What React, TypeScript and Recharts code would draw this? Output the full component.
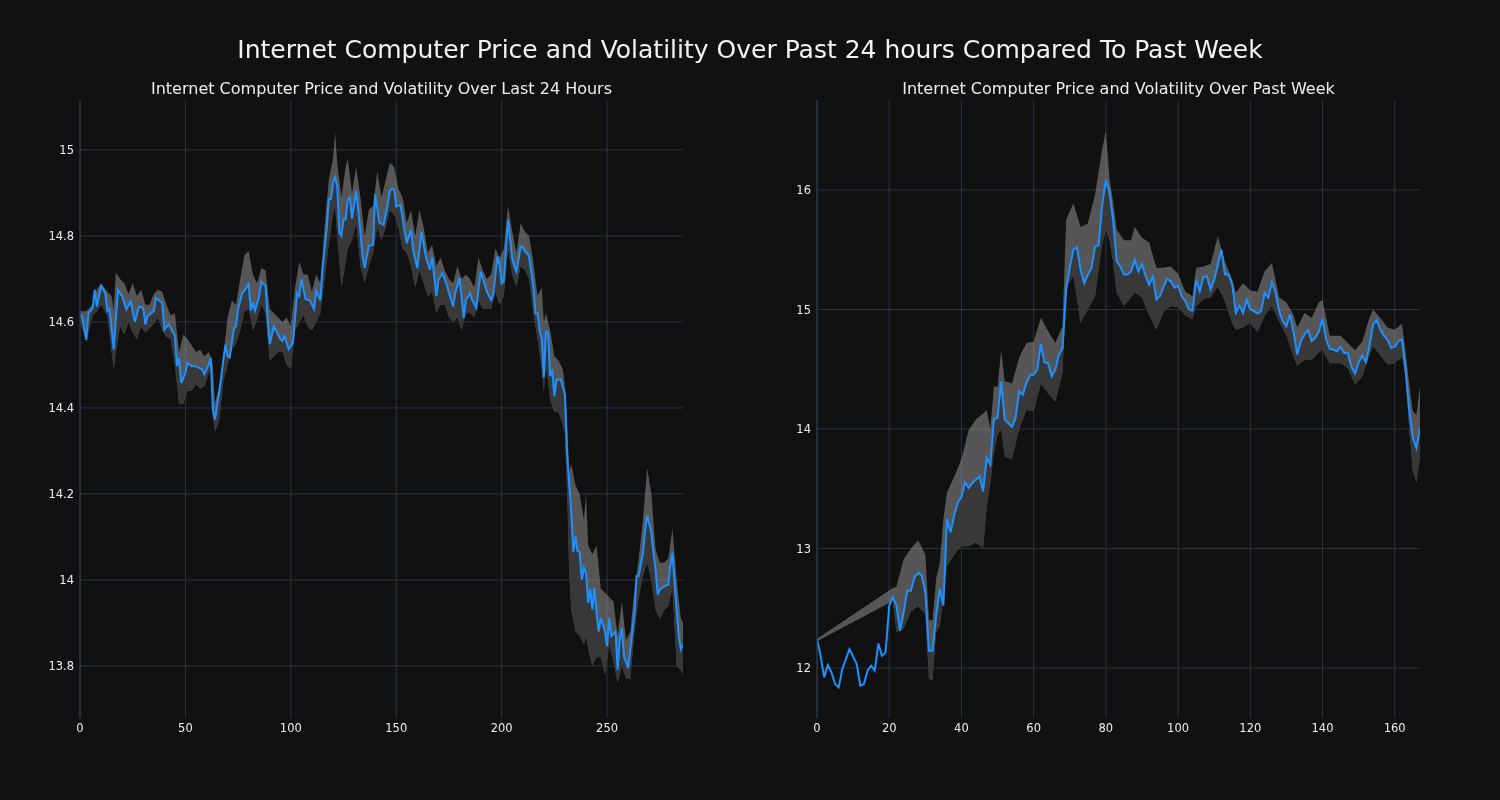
import { ComposedChart, Area, Line, XAxis, YAxis, CartesianGrid } from "recharts"

const FONT = "'DejaVu Sans', sans-serif"
const BG = "#111111"
const GRID = "#2a3443"
const TEXT = "#eeeeee"

const mainTitle = "Internet Computer Price and Volatility Over Past 24 hours Compared To Past Week"
const dayTitle = "Internet Computer Price and Volatility Over Last 24 Hours"
const weekTitle = "Internet Computer Price and Volatility Over Past Week"

// last 24 hours (5 minute steps)
const dayX = [
  0, 1, 3, 4, 6, 7, 8, 10, 12, 13,
  14, 16, 18, 20, 22, 24, 26, 28, 30, 31,
  32, 35, 36, 38, 39, 40, 42, 43, 45, 46,
  47, 48, 50, 51, 53, 55, 58, 59, 61, 62,
  63, 64, 66, 68, 69, 70, 71, 73, 74, 75,
  77, 78, 80, 81, 82, 83, 85, 86, 88, 89,
  90, 92, 95, 96, 97, 99, 101, 103, 104, 105,
  107, 109, 111, 112, 114, 115, 117, 118, 119, 120,
  121, 122, 123, 124, 125, 126, 127, 128, 129, 131,
  133, 134, 135, 137, 139, 140, 142, 144, 146, 147,
  148, 149, 150, 152, 154, 155, 157, 158, 160, 162,
  164, 166, 167, 169, 170, 172, 174, 175, 177, 178,
  180, 182, 183, 185, 186, 188, 190, 192, 193, 195,
  196, 198, 199, 200, 201, 203, 205, 206, 207, 209,
  210, 211, 212, 213, 215, 216, 217, 218, 219, 220,
  221, 222, 223, 224, 225, 226, 228, 230, 231, 233,
  234, 235, 236, 237, 238, 239, 240, 241, 242, 243,
  244, 245, 246, 247, 249, 250, 251, 252, 254, 255,
  256, 257, 258, 260, 261, 263, 264, 265, 267, 268,
  269, 271, 272, 273, 274, 275, 277, 279, 280, 281,
  282, 284, 285, 286,
]
const dayPrice = [
  14.617, 14.612, 14.558, 14.62, 14.632, 14.675, 14.636, 14.683, 14.667, 14.625,
  14.63, 14.536, 14.674, 14.66, 14.629, 14.648, 14.6, 14.636, 14.633, 14.594,
  14.613, 14.625, 14.656, 14.648, 14.644, 14.582, 14.594, 14.586, 14.567, 14.497,
  14.516, 14.458, 14.481, 14.505, 14.497, 14.497, 14.489, 14.478, 14.5, 14.516,
  14.396, 14.373, 14.435, 14.512, 14.547, 14.52, 14.517, 14.585, 14.59, 14.63,
  14.668, 14.672, 14.688, 14.626, 14.645, 14.626, 14.66, 14.693, 14.684, 14.606,
  14.548, 14.59, 14.56, 14.556, 14.567, 14.536, 14.552, 14.668, 14.66, 14.7,
  14.653, 14.65, 14.63, 14.672, 14.65, 14.722, 14.816, 14.885, 14.885, 14.924,
  14.936, 14.916, 14.808, 14.8, 14.839, 14.839, 14.885, 14.889, 14.84, 14.905,
  14.808, 14.753, 14.726, 14.777, 14.779, 14.897, 14.831, 14.826, 14.874, 14.905,
  14.909, 14.908, 14.868, 14.872, 14.81, 14.783, 14.814, 14.767, 14.725, 14.81,
  14.752, 14.721, 14.752, 14.66, 14.698, 14.713, 14.686, 14.667, 14.636, 14.667,
  14.702, 14.609, 14.651, 14.667, 14.651, 14.632, 14.717, 14.686, 14.67, 14.651,
  14.663, 14.752, 14.733, 14.69, 14.694, 14.837, 14.748, 14.729, 14.717, 14.775,
  14.775, 14.764, 14.76, 14.752, 14.682, 14.62, 14.62, 14.58, 14.56, 14.47,
  14.578, 14.575, 14.474, 14.489, 14.427, 14.466, 14.466, 14.431, 14.295, 14.156,
  14.065, 14.101, 14.067, 14.065, 14.0, 14.028, 14.016, 13.947, 13.978, 13.931,
  13.981, 13.923, 13.88, 13.912, 13.88, 13.846, 13.912, 13.869, 13.88, 13.791,
  13.861, 13.888, 13.822, 13.795, 13.838, 13.923, 14.009, 14.009, 14.063, 14.113,
  14.15, 14.109, 14.063, 14.024, 13.966, 13.978, 13.985, 13.989, 14.032, 14.063,
  13.993, 13.869, 13.838, 13.85,
]
const dayBandX = [
  0, 3, 6, 8, 10, 13, 15, 16, 17, 19,
  21, 23, 25, 27, 29, 31, 33, 35, 37, 39,
  41, 43, 45, 47, 49, 51, 53, 55, 57, 59,
  61, 62, 63, 64, 66, 68, 70, 72, 74, 76,
  78, 80, 82, 84, 86, 88, 90, 92, 94, 96,
  98, 100, 102, 104, 106, 108, 110, 112, 114, 116,
  118, 120, 121, 122, 124, 126, 127, 129, 131, 133,
  135, 137, 139, 141, 143, 145, 147, 149, 151, 153,
  155, 157, 159, 161, 163, 165, 167, 169, 171, 173,
  175, 177, 179, 181, 183, 185, 187, 189, 191, 193,
  195, 197, 199, 201, 203, 205, 207, 209, 211, 213,
  215, 217, 219, 220, 221, 223, 225, 227, 229, 230,
  231, 232, 233, 235, 237, 239, 240, 241, 243, 245,
  247, 249, 251, 253, 255, 257, 259, 261, 263, 265,
  267, 269, 271, 273, 275, 277, 279, 281, 283, 285,
  286,
]
const dayLow = [
  14.6, 14.555, 14.615, 14.625, 14.64, 14.615, 14.53, 14.49, 14.53, 14.59,
  14.57, 14.6, 14.575, 14.56, 14.59, 14.575, 14.585, 14.595, 14.61, 14.58,
  14.565, 14.56, 14.5, 14.41, 14.41, 14.44, 14.44, 14.455, 14.445, 14.45,
  14.48, 14.49, 14.38, 14.345, 14.37, 14.46, 14.5, 14.535, 14.55, 14.58,
  14.625, 14.63, 14.58, 14.605, 14.64, 14.62, 14.51, 14.52, 14.53, 14.53,
  14.5, 14.49, 14.58, 14.6, 14.615, 14.59, 14.58, 14.6, 14.62, 14.7,
  14.78, 14.85, 14.87, 14.8, 14.68, 14.74, 14.77, 14.79, 14.83, 14.73,
  14.69, 14.73, 14.76, 14.82, 14.79, 14.82, 14.86, 14.85, 14.82, 14.77,
  14.76, 14.73, 14.68, 14.72, 14.69, 14.66, 14.67, 14.62, 14.64, 14.64,
  14.61, 14.6, 14.61, 14.58, 14.62, 14.62, 14.61, 14.65, 14.63, 14.63,
  14.63, 14.67, 14.64, 14.66, 14.77, 14.71, 14.68, 14.73, 14.72, 14.7,
  14.62, 14.56, 14.49, 14.44, 14.5, 14.42, 14.39, 14.39, 14.36, 14.34,
  14.21, 14.02, 13.93, 13.88, 13.87, 13.85, 13.87, 13.84, 13.8, 13.82,
  13.82, 13.78, 13.85, 13.81, 13.76, 13.8, 13.77, 13.77, 13.88, 13.96,
  14.01, 14.04, 14.0, 13.93, 13.91, 13.93, 13.94, 13.98, 13.8, 13.79,
  13.78,
]
const dayHigh = [
  14.625, 14.625, 14.64, 14.675, 14.69, 14.67, 14.66, 14.63, 14.715, 14.7,
  14.69, 14.665, 14.69, 14.66, 14.675, 14.64, 14.64, 14.665, 14.675, 14.67,
  14.64, 14.615, 14.62, 14.53, 14.57, 14.56, 14.545, 14.53, 14.535, 14.52,
  14.53, 14.52, 14.5, 14.41, 14.45, 14.52, 14.61, 14.65, 14.64, 14.7,
  14.755, 14.765, 14.71, 14.69, 14.725, 14.72, 14.63, 14.62, 14.61, 14.6,
  14.61, 14.59, 14.68, 14.74, 14.71, 14.71, 14.67, 14.71, 14.69, 14.82,
  14.93, 14.98, 15.04, 14.97, 14.89, 14.96, 14.98, 14.9, 14.96, 14.89,
  14.8, 14.86, 14.87, 14.95, 14.89, 14.93, 14.97, 14.96, 14.91, 14.89,
  14.83, 14.86, 14.8, 14.86, 14.82, 14.76, 14.78, 14.73, 14.75, 14.72,
  14.7, 14.69, 14.73, 14.7, 14.71, 14.7, 14.68, 14.75, 14.72, 14.7,
  14.71, 14.77, 14.75, 14.77, 14.87, 14.81, 14.76, 14.83, 14.81, 14.8,
  14.74, 14.66, 14.68, 14.6, 14.62, 14.58, 14.52, 14.51, 14.49, 14.45,
  14.38, 14.25, 14.27, 14.22, 14.2, 14.14, 14.2, 14.08, 14.06, 14.08,
  13.98, 13.97, 13.96, 13.95, 13.87, 13.95, 13.86, 13.88, 13.98, 14.05,
  14.14, 14.26, 14.2, 14.07, 14.04, 14.04, 14.05, 14.12, 14.0, 13.91,
  13.9,
]

// past week (hourly)
const weekX = [
  0, 1, 2, 3, 4, 5, 6, 7, 9, 11,
  12, 13, 14, 15, 16, 17, 18, 19, 20, 21,
  22, 23, 24, 25, 26, 27, 28, 29, 30, 31,
  32, 33, 34, 35, 36, 37, 38, 39, 40, 41,
  42, 43, 45, 46, 47, 48, 49, 50, 51, 52,
  53, 54, 55, 56, 57, 58, 59, 60, 61, 62,
  63, 64, 65, 66, 67, 68, 69, 70, 71, 72,
  73, 74, 75, 76, 77, 78, 79, 80, 81, 82,
  83, 84, 85, 86, 87, 88, 89, 90, 91, 92,
  93, 94, 95, 96, 97, 98, 99, 100, 101, 102,
  103, 104, 105, 106, 107, 108, 109, 110, 111, 112,
  113, 114, 115, 116, 117, 118, 119, 120, 121, 122,
  123, 124, 125, 126, 127, 128, 129, 130, 131, 132,
  133, 134, 135, 136, 137, 138, 139, 140, 141, 142,
  143, 144, 145, 146, 147, 148, 149, 150, 151, 152,
  153, 154, 155, 156, 157, 158, 159, 160, 161, 162,
  163, 164, 165, 166, 167,
]
const weekPrice = [
  12.243, 12.103, 11.922, 12.025, 11.964, 11.866, 11.838, 11.99, 12.159, 12.033,
  11.852, 11.866, 11.978, 12.02, 11.978, 12.206, 12.103, 12.131, 12.522, 12.591,
  12.522, 12.312, 12.466, 12.647, 12.647, 12.759, 12.795, 12.773, 12.633, 12.145,
  12.145, 12.438, 12.661, 12.522, 13.247, 13.135, 13.28, 13.386, 13.43, 13.554,
  13.507, 13.549, 13.604, 13.479, 13.758, 13.702, 14.084, 14.092, 14.398, 14.078,
  14.05, 14.017, 14.092, 14.315, 14.287, 14.384, 14.454, 14.454, 14.496, 14.71,
  14.557, 14.552, 14.44, 14.496, 14.621, 14.677, 15.16, 15.35, 15.5, 15.52,
  15.33, 15.22, 15.29, 15.345, 15.526, 15.54, 15.875, 16.084, 15.98, 15.75,
  15.403, 15.361, 15.292, 15.292, 15.319, 15.417, 15.319, 15.383, 15.278, 15.208,
  15.278, 15.083, 15.111, 15.194, 15.256, 15.236, 15.181, 15.2, 15.111, 15.069,
  15.0, 14.99, 15.25, 15.153, 15.272, 15.278, 15.167, 15.25, 15.375, 15.5,
  15.292, 15.292, 15.208, 14.972, 15.033, 14.972, 15.083, 15.0, 14.986, 14.967,
  14.986, 15.14, 15.098, 15.229, 15.14, 14.986, 14.902, 14.86, 14.958, 14.804,
  14.623, 14.735, 14.79, 14.827, 14.735, 14.763, 14.818, 14.922, 14.749, 14.67,
  14.665, 14.651, 14.687, 14.637, 14.637, 14.52, 14.464, 14.553, 14.615, 14.559,
  14.693, 14.874, 14.911, 14.832, 14.782, 14.749, 14.679, 14.687, 14.735, 14.749,
  14.497, 14.162, 13.925, 13.841, 14.0,
]
const weekBandX = [
  0, 21, 22, 24, 26, 28, 30, 31, 32, 33,
  34, 35, 36, 38, 40, 42, 44, 46, 47, 48,
  49, 50, 51, 52, 54, 56, 58, 60, 62, 64,
  66, 68, 69, 71, 73, 75, 77, 79, 80, 81,
  82, 83, 85, 87, 88, 90, 92, 94, 96, 98,
  100, 102, 104, 105, 107, 109, 111, 113, 115, 116,
  118, 120, 122, 124, 126, 128, 130, 132, 133, 135,
  137, 139, 140, 142, 145, 147, 149, 151, 153, 154,
  156, 158, 160, 162, 163, 164, 165, 166, 167,
]
const weekLow = [
  12.225, 12.56, 12.3, 12.33, 12.47, 12.52, 12.45, 11.91, 11.9, 12.3,
  12.35, 12.6, 12.85, 12.95, 13.02, 13.02, 13.05, 13.0, 13.35, 13.55,
  13.8, 13.95, 14.0, 13.77, 13.75, 14.0, 14.16, 14.15, 14.38, 14.3,
  14.23, 14.47, 15.19, 15.28, 14.89, 15.0, 15.11, 15.55, 15.67, 15.58,
  15.4, 15.14, 15.03, 15.1, 15.14, 15.1, 14.95, 14.83, 14.98, 15.03,
  15.02, 14.95, 14.92, 15.03, 15.09, 15.1, 15.19, 15.07, 14.88, 14.83,
  14.85, 14.89, 14.81, 14.95, 15.03, 14.9, 14.78, 14.6, 14.53, 14.58,
  14.58, 14.64, 14.66, 14.55, 14.55, 14.51, 14.37, 14.44, 14.62, 14.69,
  14.62, 14.54, 14.55, 14.6, 14.45, 14.0, 13.65, 13.55, 13.77,
]
const weekHigh = [
  12.245, 12.67, 12.68, 12.91, 13.0, 13.07, 12.95, 12.4, 12.4, 12.75,
  12.88, 13.25, 13.47, 13.6, 13.75, 13.99, 14.08, 14.13, 14.16, 14.0,
  14.36, 14.35, 14.66, 14.4, 14.38, 14.6, 14.72, 14.73, 14.93, 14.82,
  14.72, 14.86, 15.75, 15.89, 15.69, 15.72, 15.96, 16.35, 16.49, 16.1,
  15.9, 15.67, 15.58, 15.58, 15.69, 15.6, 15.56, 15.35, 15.35, 15.36,
  15.3, 15.15, 15.11, 15.35, 15.36, 15.38, 15.61, 15.4, 15.25, 15.14,
  15.22, 15.16, 15.15, 15.32, 15.39, 15.1, 15.06, 14.95, 14.85, 14.97,
  14.93, 15.06, 15.08, 14.78, 14.78, 14.72, 14.66, 14.73, 14.93, 15.0,
  14.93, 14.85, 14.83, 14.88, 14.65, 14.38, 14.15, 14.12, 14.36,
]

const dayXTicks = [0, 50, 100, 150, 200, 250]
const dayYTicks = [13.8, 14, 14.2, 14.4, 14.6, 14.8, 15]
const weekXTicks = [0, 20, 40, 60, 80, 100, 120, 140, 160]
const weekYTicks = [12, 13, 14, 15, 16]

type Pt = { x: number; price: number }
type BandPt = { x: number; range: [number, number] }

function PricePanel({
  title,
  left,
  price,
  band,
  xDomain,
  xTicks,
  yDomain,
  yTicks,
}: {
  title: string
  left: number
  price: Pt[]
  band: BandPt[]
  xDomain: [number, number]
  xTicks: number[]
  yDomain: [number, number]
  yTicks: number[]
}) {
  const tick = { fill: TEXT, fontSize: 11.5, fontFamily: FONT }
  return (
    <div style={{ position: "absolute", left, top: 0, width: 700, height: 800 }}>
      <div
        style={{
          position: "absolute",
          top: 80,
          left: 80,
          width: 603,
          textAlign: "center",
          fontSize: 16,
          lineHeight: "18px",
          color: TEXT,
          fontFamily: FONT,
          whiteSpace: "nowrap",
        }}
      >
        {title}
      </div>
      <ComposedChart width={700} height={800} margin={{ top: 100, right: 17, bottom: 52, left: 40 }}>
        <CartesianGrid
          stroke={GRID}
          strokeWidth={1}
          fill={BG}
          fillOpacity={1}
          horizontalValues={yTicks}
          verticalValues={xTicks}
        />
        <XAxis
          type="number"
          dataKey="x"
          domain={xDomain}
          ticks={xTicks}
          allowDataOverflow
          axisLine={false}
          tickLine={false}
          tickSize={4}
          height={30}
          tick={tick}
        />
        <YAxis
          type="number"
          domain={yDomain}
          ticks={yTicks}
          allowDataOverflow
          width={40}
          axisLine={{ stroke: "#2f3a48" }}
          tickLine={false}
          tickSize={4}
          tick={tick}
          tickFormatter={(v: number) => String(+v.toFixed(1))}
        />
        <Area
          data={band}
          dataKey="range"
          type="linear"
          fill="#9c9c9c"
          fillOpacity={0.5}
          stroke="none"
          isAnimationActive={false}
        />
        <Area
          className="under-price"
          data={price}
          dataKey="price"
          type="linear"
          baseValue={yDomain[0]}
          fill="#383838"
          fillOpacity={1}
          stroke="none"
          isAnimationActive={false}
        />
        <Line
          data={price}
          dataKey="price"
          type="linear"
          stroke="#1e90ff"
          strokeWidth={2}
          dot={false}
          isAnimationActive={false}
        />
      </ComposedChart>
    </div>
  )
}

export default function App() {
  const dayData = dayX.map((x, i) => ({ x, price: dayPrice[i] }))
  const dayBand = dayBandX.map((x, i) => ({ x, range: [dayLow[i], dayHigh[i]] as [number, number] }))
  const weekData = weekX.map((x, i) => ({ x, price: weekPrice[i] }))
  const weekBand = weekBandX.map((x, i) => ({ x, range: [weekLow[i], weekHigh[i]] as [number, number] }))

  return (
    <div
      style={{
        position: "absolute",
        top: 0,
        left: 0,
        width: 1500,
        height: 800,
        background: BG,
        fontFamily: FONT,
        overflow: "hidden",
      }}
    >
      <style>{`
        .under-price, .under-price path, [class*="under-price"] path { mix-blend-mode: darken; }
      `}</style>
      <div
        style={{
          position: "absolute",
          top: 36,
          left: 0,
          width: 1500,
          textAlign: "center",
          fontSize: 25,
          lineHeight: "28px",
          color: "#f2f2f2",
          whiteSpace: "nowrap",
        }}
      >
        {mainTitle}
      </div>
      <PricePanel
        title={dayTitle}
        left={0}
        price={dayData}
        band={dayBand}
        xDomain={[0, 286]}
        xTicks={dayXTicks}
        yDomain={[13.679, 15.116]}
        yTicks={dayYTicks}
      />
      <PricePanel
        title={weekTitle}
        left={737}
        price={weekData}
        band={weekBand}
        xDomain={[0, 167]}
        xTicks={weekXTicks}
        yDomain={[11.582, 16.753]}
        yTicks={weekYTicks}
      />
    </div>
  )
}
